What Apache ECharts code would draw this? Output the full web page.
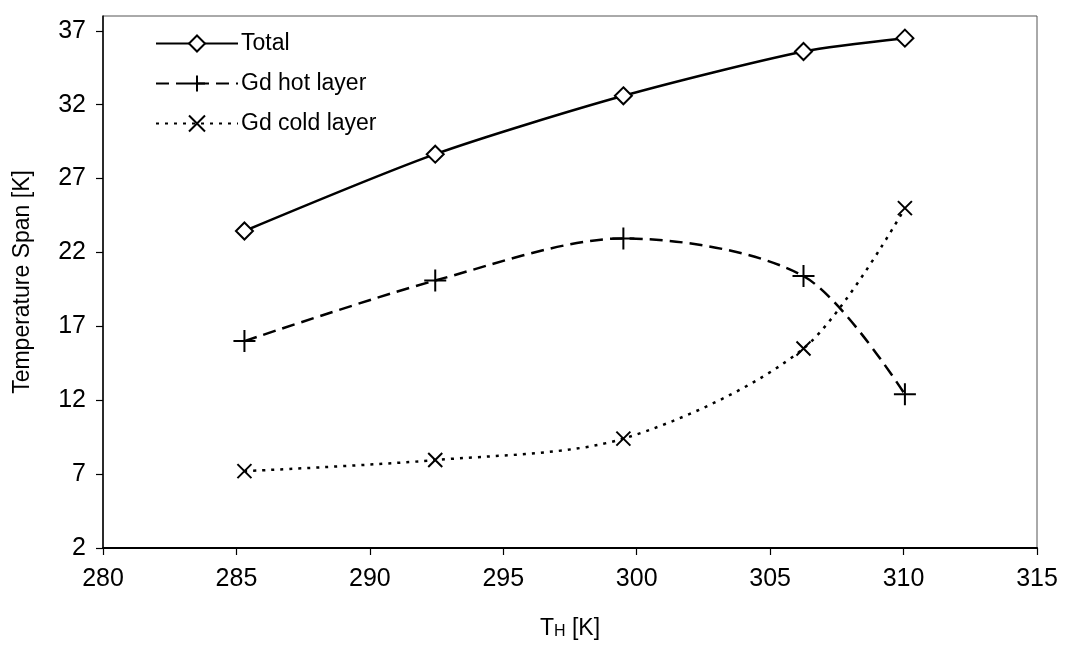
<!DOCTYPE html>
<html>
<head>
<meta charset="utf-8">
<script src="https://cdn.jsdelivr.net/npm/echarts@6/dist/echarts.min.js"></script>
<style>
html,body{margin:0;padding:0;background:#fff;}
#chart{width:1065px;height:645px;}
</style>
</head>
<body>
<div id="chart"></div>
<script>
// ---- data ----
const tH = [285.3, 292.45, 299.5, 306.25, 310.05];
const totalSpan = [23.45, 28.65, 32.6, 35.6, 36.5];
const hotLayer = [16.0, 20.1, 22.95, 20.4, 12.4];
const coldLayer = [7.2, 7.95, 9.4, 15.5, 25.0];
const seriesNames = ['Total', 'Gd hot layer', 'Gd cold layer'];
const yTickLabels = [2, 7, 12, 17, 22, 27, 32, 37];
const xTickLabels = [280, 285, 290, 295, 300, 305, 310, 315];

const FONT = "'Liberation Sans', Arial, sans-serif";
const pairs = ys => tH.map((x, i) => [x, ys[i]]);

const chart = echarts.init(document.getElementById('chart'), null, {renderer: 'canvas'});
chart.setOption({
  backgroundColor: '#fff',
  animation: false,
  textStyle: {fontFamily: FONT, color: '#000'},
  grid: {
    left: 103, right: 28, top: 16, bottom: 94,
    show: true, borderColor: '#555', borderWidth: 1, backgroundColor: 'transparent'
  },
  legend: {
    orient: 'vertical',
    left: 150, top: 27,
    itemWidth: 82, itemHeight: 20, itemGap: 17,
    data: seriesNames,
    textStyle: {fontFamily: FONT, fontSize: 23, color: '#000', lineHeight: 20, padding: [0, 0, 0, -2]}
  },
  xAxis: {
    type: 'value',
    min: xTickLabels[0], max: xTickLabels[xTickLabels.length - 1], interval: 5,
    name: '{a|T}{b|H}{a| [K]}',
    nameLocation: 'middle', nameGap: 68,
    nameTextStyle: {
      rich: {
        a: {fontFamily: FONT, fontSize: 23, color: '#000', lineHeight: 24, verticalAlign: 'bottom'},
        b: {fontFamily: FONT, fontSize: 16, color: '#000', lineHeight: 20, verticalAlign: 'bottom'}
      }
    },
    axisLine: {onZero: false, lineStyle: {color: '#000', width: 2}},
    axisTick: {show: true, inside: false, length: 7, lineStyle: {color: '#000', width: 1.2}},
    axisLabel: {fontFamily: FONT, fontSize: 25, color: '#000', margin: 19},
    splitLine: {show: false}
  },
  yAxis: {
    type: 'value',
    min: 2, max: 38, interval: 5,
    name: 'Temperature Span [K]',
    nameLocation: 'middle', nameGap: 69,
    nameTextStyle: {fontFamily: FONT, fontSize: 23, color: '#000'},
    axisLine: {onZero: false, lineStyle: {color: '#000', width: 1.5}},
    axisTick: {show: true, inside: false, length: 7, customValues: yTickLabels, lineStyle: {color: '#000', width: 1.2}},
    axisLabel: {fontFamily: FONT, fontSize: 25, color: '#000', margin: 17, customValues: yTickLabels},
    splitLine: {show: false}
  },
  series: [
    {
      name: seriesNames[0], type: 'line', data: pairs(totalSpan),
      smooth: 0.25,
      symbol: 'diamond', symbolSize: 17,
      lineStyle: {color: '#000', width: 2.5, type: 'solid'},
      itemStyle: {color: '#fff', borderColor: '#000', borderWidth: 2}
    },
    {
      name: seriesNames[1], type: 'line', data: pairs(hotLayer),
      smooth: 0.3,
      symbol: 'path://M0,-1 L0,1 M-1,0 L1,0', symbolSize: 22,
      lineStyle: {color: '#000', width: 2.5, type: [13, 7]},
      itemStyle: {color: '#000', borderColor: '#000', borderWidth: 2}
    },
    {
      name: seriesNames[2], type: 'line', data: pairs(coldLayer),
      smooth: 0.3,
      symbol: 'path://M-1,-1 L1,1 M-1,1 L1,-1', symbolSize: 14,
      lineStyle: {color: '#000', width: 2.5, type: [3, 6]},
      itemStyle: {color: '#000', borderColor: '#000', borderWidth: 2}
    }
  ]
});
</script>
</body>
</html>
